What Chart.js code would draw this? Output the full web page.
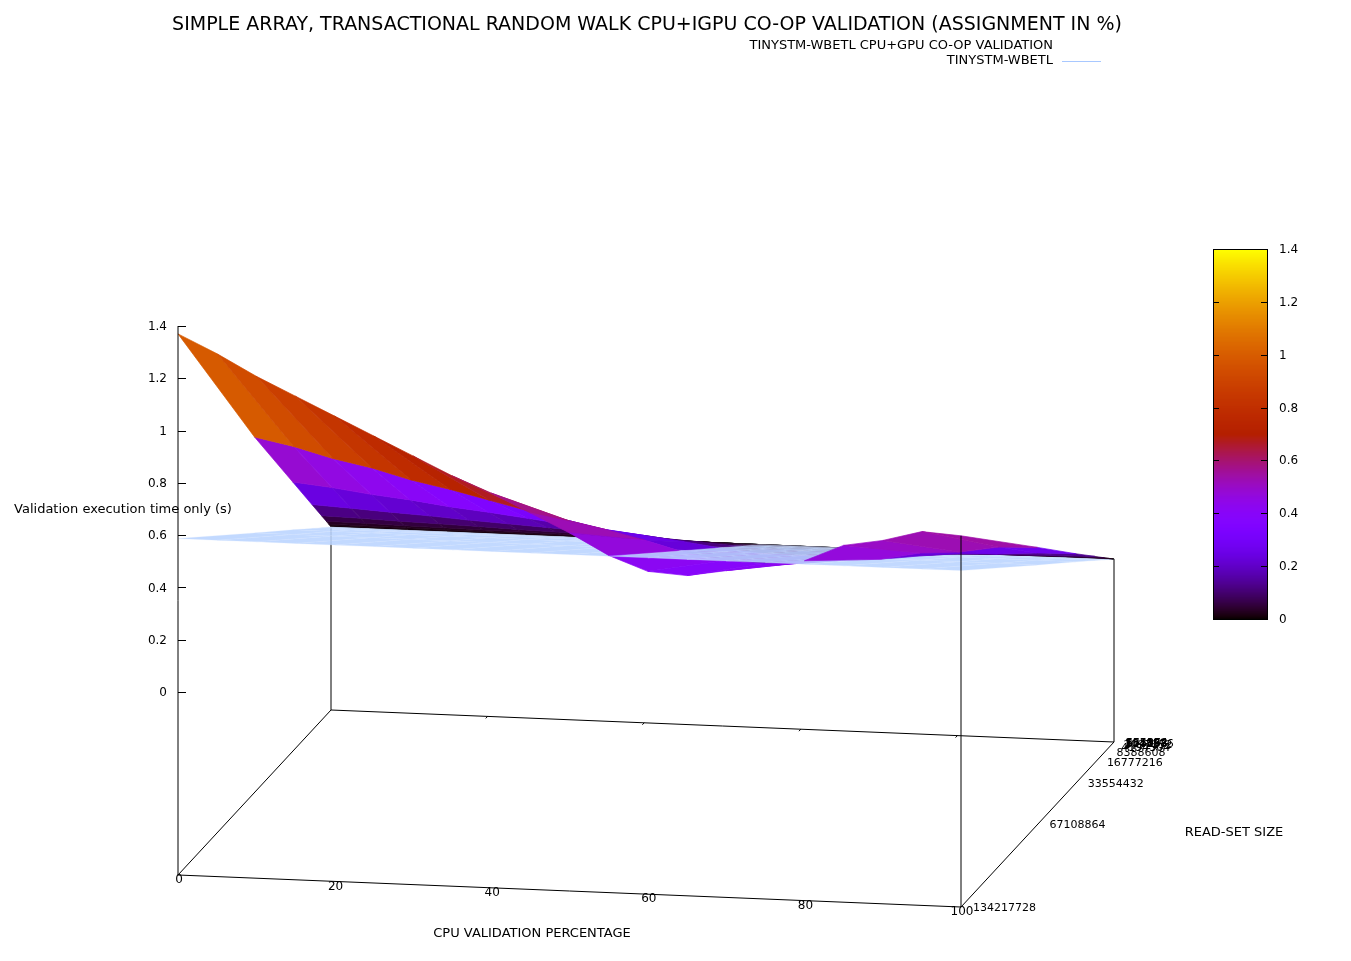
<!DOCTYPE html>
<html>
<head>
<meta charset="utf-8">
<title>Simple array, transactional random walk CPU+iGPU co-op validation</title>
<script src="https://cdn.jsdelivr.net/npm/chart.js@4.4.1/dist/chart.umd.min.js"></script>
<style>
  html, body { margin: 0; padding: 0; background: #fff; }
  #wrap { position: relative; width: 1351px; height: 961px; }
</style>
</head>
<body>
<div id="wrap"><canvas id="chart"></canvas></div>
<script>
// ── Data ────────────────────────────────────────────────────────
const CPU_PCT = [0, 5, 10, 15, 20, 25, 30, 35, 40, 45, 50, 55, 60, 65, 70, 75, 80, 85, 90, 95, 100];

const READ_SET = [65536, 131072, 262144, 524288, 1048576, 2097152, 4194304,
                  8388608, 16777216, 33554432, 67108864, 134217728];

// validation time (s), CPU+GPU co-op, one row per read-set size
const T_64K  = [0.0007, 0.0007, 0.0006, 0.0006, 0.0006, 0.0005, 0.0005, 0.0005, 0.0004, 0.0004, 0.0004, 0.0003, 0.0003, 0.0003, 0.0003, 0.0003, 0.0003, 0.0003, 0.0004, 0.0004, 0.0004];
const T_128K = [0.0013, 0.0013, 0.0012, 0.0011, 0.0011, 0.0010, 0.0009, 0.0009, 0.0008, 0.0007, 0.0007, 0.0006, 0.0005, 0.0005, 0.0006, 0.0006, 0.0006, 0.0007, 0.0007, 0.0007, 0.0007];
const T_256K = [0.0027, 0.0025, 0.0024, 0.0022, 0.0021, 0.0020, 0.0018, 0.0017, 0.0016, 0.0014, 0.0013, 0.0012, 0.0010, 0.0010, 0.0011, 0.0011, 0.0012, 0.0013, 0.0013, 0.0014, 0.0014];
const T_512K = [0.0053, 0.0050, 0.0047, 0.0045, 0.0042, 0.0039, 0.0036, 0.0034, 0.0031, 0.0029, 0.0026, 0.0023, 0.0021, 0.0020, 0.0021, 0.0022, 0.0023, 0.0026, 0.0026, 0.0028, 0.0028];
const T_1M   = [0.0110, 0.0100, 0.0095, 0.0090, 0.0084, 0.0079, 0.0073, 0.0068, 0.0063, 0.0058, 0.0052, 0.0046, 0.0042, 0.0041, 0.0043, 0.0045, 0.0047, 0.0052, 0.0053, 0.0055, 0.0056];
const T_2M   = [0.021, 0.020, 0.019, 0.018, 0.017, 0.016, 0.0145, 0.0135, 0.0125, 0.0115, 0.0104, 0.0092, 0.0083, 0.0082, 0.0086, 0.0090, 0.0093, 0.0103, 0.0106, 0.0110, 0.0112];
const T_4M   = [0.042, 0.040, 0.037, 0.035, 0.033, 0.031, 0.029, 0.027, 0.025, 0.023, 0.020, 0.018, 0.016, 0.016, 0.017, 0.018, 0.018, 0.020, 0.021, 0.022, 0.022];
const T_8M   = [0.083, 0.079, 0.074, 0.070, 0.066, 0.061, 0.057, 0.053, 0.049, 0.045, 0.041, 0.036, 0.033, 0.032, 0.034, 0.035, 0.037, 0.040, 0.041, 0.043, 0.044];
const T_16M  = [0.165, 0.157, 0.148, 0.140, 0.130, 0.122, 0.114, 0.105, 0.098, 0.090, 0.081, 0.072, 0.065, 0.064, 0.067, 0.070, 0.073, 0.080, 0.083, 0.086, 0.089];
const T_32M  = [0.330, 0.315, 0.295, 0.280, 0.260, 0.245, 0.228, 0.210, 0.195, 0.180, 0.163, 0.143, 0.130, 0.128, 0.133, 0.140, 0.145, 0.160, 0.165, 0.175, 0.178];
const T_64M  = [0.660, 0.630, 0.590, 0.560, 0.520, 0.490, 0.455, 0.420, 0.390, 0.360, 0.325, 0.285, 0.260, 0.255, 0.265, 0.280, 0.290, 0.320, 0.330, 0.355, 0.360];
const T_128M = [1.370, 1.300, 1.220, 1.150, 1.080, 1.010, 0.940, 0.870, 0.810, 0.740, 0.670, 0.590, 0.535, 0.525, 0.550, 0.575, 0.600, 0.665, 0.690, 0.730, 0.720];
const TIME_COOP = [T_64K, T_128K, T_256K, T_512K, T_1M, T_2M, T_4M, T_8M, T_16M, T_32M, T_64M, T_128M];

// TinySTM-WBETL CPU only: one time per read-set size (does not depend on the %)
const TIME_CPU = [0.0003, 0.0006, 0.0011, 0.0023, 0.0046, 0.0092, 0.0183, 0.0367, 0.0734, 0.147, 0.293, 0.587];

const X_TICKS  = [0, 20, 40, 60, 80, 100];
const Z_TICKS  = [0, 0.2, 0.4, 0.6, 0.8, 1, 1.2, 1.4];
const CB_TICKS = [0, 0.2, 0.4, 0.6, 0.8, 1, 1.2, 1.4];

const TITLE   = "SIMPLE ARRAY, TRANSACTIONAL RANDOM WALK CPU+IGPU CO-OP VALIDATION (ASSIGNMENT IN %)";
const SERIES  = ["TINYSTM-WBETL CPU+GPU CO-OP VALIDATION", "TINYSTM-WBETL"];
const X_TITLE = "CPU VALIDATION PERCENTAGE";
const Y_TITLE = "READ-SET SIZE";
const Z_TITLE = "Validation execution time only (s)";

// ── View (gnuplot-like orthographic 3D box, in canvas units) ─────
const W = 1351, H = 961;
const X_MAX = 100, S_MAX = 134217728, Z_BASE = -0.7, Z_TOP = 1.4, CB_MAX = 1.4;
const VIEW = {
  ox: 331, oy: 710,        // back-left corner of the base
  xx: 783, xy: 32,         // whole x range
  sx: -153, sy: 165,       // whole read-set range (back -> front)
  zy: -261.4,              // one second of z
};
const FONT = '"DejaVu Sans", "Liberation Sans", sans-serif';
const PLANE_FILL = "rgba(186,212,255,0.88)";
const PLANE_EDGE = "rgba(212,228,255,0.5)";
const KEY_LINE = "rgb(168,200,255)";
const CB_BOX = { left: 1213, right: 1267, top: 249, bottom: 619 };

function project(p, s, z) {
  const u = p / X_MAX, v = s / S_MAX;
  return {
    x: VIEW.ox + u * VIEW.xx + v * VIEW.sx,
    y: VIEW.oy + u * VIEW.xy + v * VIEW.sy + (z - Z_BASE) * VIEW.zy,
  };
}

// distance toward the viewer (rot_x ~78, rot_z ~11), used for depth ordering
function closeness(p, s, z) {
  return 0.375 * p / X_MAX + 1.919 * s / S_MAX + 0.141 * z;
}

// gnuplot default palette: rgbformulae 7,5,15
function pm3dColor(t) {
  t = Math.min(1, Math.max(0, t));
  const r = Math.sqrt(t), g = t * t * t, b = Math.max(0, Math.sin(2 * Math.PI * t));
  return `rgb(${Math.round(r * 255)},${Math.round(g * 255)},${Math.round(b * 255)})`;
}

// ── Build quads ──────────────────────────────────────────────────
function buildQuads() {
  const quads = [];
  for (let r = 0; r < READ_SET.length - 1; r++) {
    for (let c = 0; c < CPU_PCT.length - 1; c++) {
      const cells = [[c, r], [c + 1, r], [c + 1, r + 1], [c, r + 1]];

      const zs = cells.map(([ci, ri]) => TIME_COOP[ri][ci]);
      const mean = zs.reduce((a, b) => a + b, 0) / 4;
      const pts = cells.map(([ci, ri], k) => project(CPU_PCT[ci], READ_SET[ri], zs[k]));
      const col = pm3dColor(mean / CB_MAX);
      quads.push({
        depth: cells.reduce((a, [ci, ri], k) => a + closeness(CPU_PCT[ci], READ_SET[ri], zs[k]), 0) / 4,
        data: [...pts, pts[0]], fill: col, edge: col, width: 0.7,
      });

      const zc = cells.map(([ci, ri]) => TIME_CPU[ri]);
      const pc = cells.map(([ci, ri], k) => project(CPU_PCT[ci], READ_SET[ri], zc[k]));
      quads.push({
        depth: cells.reduce((a, [ci, ri], k) => a + closeness(CPU_PCT[ci], READ_SET[ri], zc[k]), 0) / 4,
        data: [...pc, pc[0]], fill: PLANE_FILL, edge: PLANE_EDGE, width: 0.5,
      });
    }
  }
  quads.sort((a, b) => b.depth - a.depth);   // closest first -> drawn last
  return quads;
}

function frameLine(points, order) {
  return {
    data: points, order, fill: false, borderColor: "#000", borderWidth: 1,
    pointRadius: 0, tension: 0,
  };
}

function buildDatasets() {
  const quads = buildQuads();
  const n = quads.length;
  const sets = quads.map((q, i) => ({
    data: q.data, order: i, fill: "shape",
    backgroundColor: q.fill, borderColor: q.edge, borderWidth: q.width,
    pointRadius: 0, tension: 0,
  }));

  const last = READ_SET.length - 1, lastC = CPU_PCT.length - 1;
  // base of the box, drawn first
  sets.push(frameLine([
    project(0, 0, Z_BASE), project(X_MAX, 0, Z_BASE), project(X_MAX, S_MAX, Z_BASE),
    project(0, S_MAX, Z_BASE), project(0, 0, Z_BASE),
  ], n + 20));
  // back verticals, up to the surface corner
  sets.push(frameLine([project(0, 0, Z_BASE), project(0, 0, TIME_COOP[0][0])], n + 10));
  sets.push(frameLine([project(X_MAX, 0, Z_BASE), project(X_MAX, 0, TIME_COOP[0][lastC])], n + 10));
  // front verticals, drawn last
  sets.push(frameLine([project(X_MAX, S_MAX, Z_BASE), project(X_MAX, S_MAX, TIME_COOP[last][lastC])], -10));
  sets.push(frameLine([project(0, S_MAX, Z_BASE), project(0, S_MAX, Z_TOP)], -10));
  return sets;
}

// ── Text, tics, colour box, key ──────────────────────────────────
const gnuplotDecor = {
  id: "gnuplotDecor",
  afterDatasetsDraw(chart) {
    const { ctx } = chart;
    const sx = chart.scales.x, sy = chart.scales.y;
    const px = (v) => sx.getPixelForValue(v);
    const py = (v) => sy.getPixelForValue(v);
    const P = (pt) => ({ x: px(pt.x), y: py(pt.y) });

    ctx.save();
    ctx.fillStyle = "#000";
    ctx.strokeStyle = "#000";
    ctx.lineWidth = 1;
    ctx.textBaseline = "middle";

    // title
    ctx.font = `19px ${FONT}`;
    ctx.textAlign = "center";
    ctx.fillText(TITLE, px(647), py(25));

    // key
    ctx.font = `13px ${FONT}`;
    ctx.textAlign = "right";
    ctx.fillText(SERIES[0], px(1053), py(46));
    ctx.fillText(SERIES[1], px(1053), py(61));
    ctx.strokeStyle = KEY_LINE;
    ctx.beginPath();
    ctx.moveTo(px(1062), py(61.5));
    ctx.lineTo(px(1101), py(61.5));
    ctx.stroke();
    ctx.strokeStyle = "#000";

    // z tics on the front-left vertical
    ctx.font = `12px ${FONT}`;
    ctx.textAlign = "right";
    Z_TICKS.forEach((z) => {
      const a = P(project(0, S_MAX, z));
      ctx.beginPath();
      ctx.moveTo(a.x, Math.round(a.y) + 0.5);
      ctx.lineTo(a.x + 8, Math.round(a.y) + 0.5);
      ctx.stroke();
      ctx.fillText(String(z), a.x - 11, a.y + 1);
    });

    // x tics: marks on the back edge, labels on the front edge
    ctx.textAlign = "center";
    X_TICKS.forEach((p) => {
      const b = P(project(p, 0, Z_BASE));
      if (p > 0 && p < X_MAX) {
        const b2 = P(project(p, S_MAX * 0.012, Z_BASE));
        ctx.beginPath();
        ctx.moveTo(b.x, b.y);
        ctx.lineTo(b2.x, b2.y);
        ctx.stroke();
      }
      const f = P(project(p, S_MAX, Z_BASE));
      ctx.fillText(String(p), f.x + 1, f.y + 5);
    });

    // y tics: read-set sizes along the right base edge
    ctx.font = `11px ${FONT}`;
    ctx.textAlign = "left";
    READ_SET.forEach((s) => {
      const a = P(project(X_MAX, s, Z_BASE));
      ctx.fillText(String(s), a.x + 12, a.y + 1);
    });

    // axis titles
    ctx.font = `13px ${FONT}`;
    ctx.textAlign = "center";
    ctx.fillText(X_TITLE, px(532), py(934));
    ctx.fillText(Y_TITLE, px(1234), py(833));
    ctx.fillText(Z_TITLE, px(123), py(510));

    // colour box
    const L = px(CB_BOX.left), R = px(CB_BOX.right), T = py(CB_BOX.top), B = py(CB_BOX.bottom);
    const steps = Math.round(B - T);
    for (let k = 0; k < steps; k++) {
      ctx.fillStyle = pm3dColor((k + 0.5) / steps);
      ctx.fillRect(L, B - k - 1, R - L, 1.2);
    }
    ctx.strokeRect(Math.round(L) + 0.5, Math.round(T) + 0.5, Math.round(R - L), Math.round(B - T));
    ctx.fillStyle = "#000";
    ctx.font = `12px ${FONT}`;
    ctx.textAlign = "left";
    CB_TICKS.forEach((v) => {
      const y = Math.round(B - (v / CB_MAX) * (B - T)) + 0.5;
      if (v > 0 && v < CB_MAX) {
        ctx.beginPath();
        ctx.moveTo(L, y); ctx.lineTo(L + 6, y);
        ctx.moveTo(R, y); ctx.lineTo(R - 6, y);
        ctx.stroke();
      }
      ctx.fillText(String(v), R + 12, y);
    });

    ctx.restore();
  },
};

// ── Chart ────────────────────────────────────────────────────────
new Chart(document.getElementById("chart"), {
  type: "line",
  data: { datasets: buildDatasets() },
  options: {
    responsive: true,
    maintainAspectRatio: false,
    animation: false,
    events: [],
    layout: { padding: 0 },
    plugins: {
      legend: { display: false },
      tooltip: { enabled: false },
      title: { display: false },
    },
    scales: {
      x: { type: "linear", min: 0, max: W, display: false },
      y: { type: "linear", min: 0, max: H, reverse: true, display: false },
    },
  },
  plugins: [gnuplotDecor],
});
</script>
</body>
</html>
